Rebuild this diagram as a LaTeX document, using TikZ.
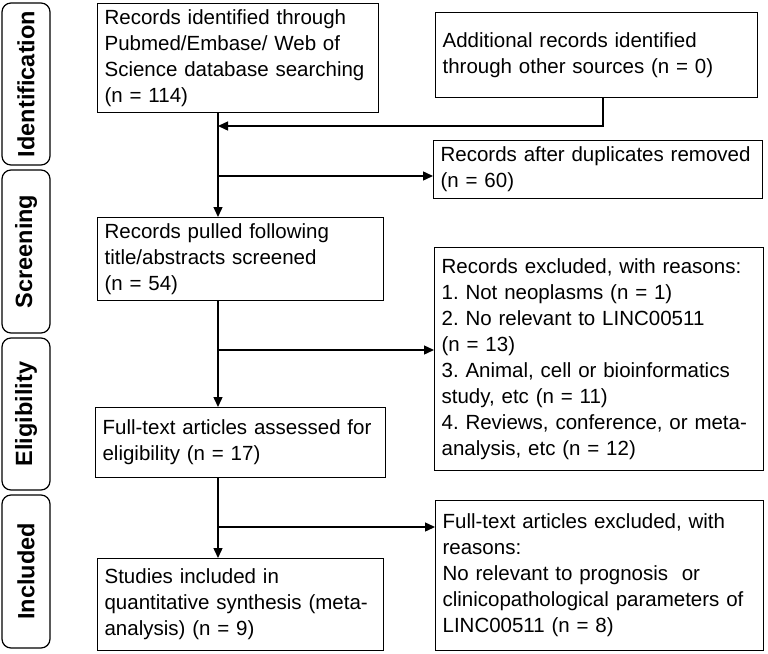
\documentclass[tikz,border=0pt]{standalone}
\usepackage{fontspec}
\setmainfont{Liberation Sans}
\usetikzlibrary{arrows.meta}
\frenchspacing

\tikzset{
    box/.style={draw, line width=1.2pt, anchor=north west, align=left, inner xsep=7pt,
                font=\fontsize{20.5}{26}\selectfont},
    side/.style={draw, line width=1.2pt, rounded corners=9pt, rotate=90, minimum height=48pt,
                 font=\bfseries\fontsize{23.5}{26}\selectfont},
    flow/.style={line width=1.4pt},
    arr/.style={flow, -{Triangle[length=10pt,width=9pt]}}
}

\begin{document}
\begin{tikzpicture}[x=1pt,y=-1pt]
    \useasboundingbox (0,0) rectangle (768,653);

    % Stage labels on the left
    \node[side, minimum width=162pt] (lid) at (26,84) {Identification};
    \node[side, minimum width=163pt] (lscr) at (26,251.5) {Screening};
    \node[side, minimum width=152pt] (lelig) at (26,414) {Eligibility};
    \node[side, minimum width=153pt] (lincl) at (26,571.5) {Included};

    % Boxes of the main column
    \node[box, text width=267pt, minimum height=109pt] (ident) at (97,3)
        {Records identified through\\Pubmed/Embase/ Web of\\Science database searching\\(n = 114)};
    \node[box, text width=272pt, minimum height=83pt] (screen) at (97,217)
        {Records pulled following\\title/abstracts screened\\(n = 54)};
    \node[box, text width=276pt, minimum height=70pt] (full) at (95,407)
        {Full-text articles assessed for\\eligibility (n = 17)};
    \node[box, text width=272pt, minimum height=92pt] (incl) at (97,558)
        {Studies included in\\quantitative synthesis (meta-\\analysis) (n = 9)};

    % Boxes on the right
    \node[box, text width=308pt, minimum height=85pt] (other) at (435,12)
        {Additional records identified\\through other sources (n = 0)};
    \node[box, text width=315pt, minimum height=58pt] (dup) at (433,140)
        {Records after duplicates removed\\(n = 60)};
    \node[box, text width=315pt, minimum height=223pt] (excl) at (434,247)
        {Records excluded, with reasons:\\1. Not neoplasms (n = 1)\\2. No relevant to LINC00511\\(n = 13)\\3. Animal, cell or bioinformatics\\study, etc (n = 11)\\4. Reviews, conference, or meta-\\analysis, etc (n = 12)};
    \node[box, text width=314pt, minimum height=150pt] (ftexcl) at (435,500)
        {Full-text articles excluded, with\\reasons:\\No relevant to prognosis~ or\\clinicopathological parameters of\\LINC00511 (n = 8)};

    % Junction points
    \coordinate (spine) at (218,0);
    \coordinate (drop) at (603,126);
    \coordinate (j1) at (218,176);
    \coordinate (j2) at (218,350);
    \coordinate (j3) at (218,527);

    % Connectors
    \draw[arr] (ident.south -| spine) -- (screen.north -| spine);
    \draw[arr] (other.south -| drop) |- (spine |- drop);
    \draw[arr] (j1) -- (dup.west |- j1);
    \draw[arr] (screen.south -| spine) -- (full.north -| spine);
    \draw[arr] (j2) -- (excl.west |- j2);
    \draw[arr] (full.south -| spine) -- (incl.north -| spine);
    \draw[arr] (j3) -- (ftexcl.west |- j3);
\end{tikzpicture}
\end{document}
